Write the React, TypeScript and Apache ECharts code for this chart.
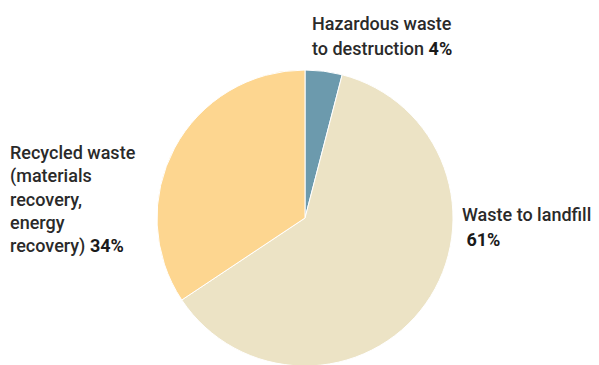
import React, { useEffect, useRef } from "react";
import * as echarts from "echarts";

const categories = [
  "Hazardous waste\nto destruction",
  "Waste to landfill\n",
  "Recycled waste\n(materials\nrecovery,\nenergy\nrecovery)",
];
const values = [4, 61, 34];
const percentLabels = ["4%", "61%", "34%"];
const colors = ["#6c9aad", "#ece3c5", "#fdd690"];
const labelPositions = [
  { x: 312, y: 11, lh: 25 },
  { x: 462, y: 202, lh: 25 },
  { x: 10, y: 141, lh: 23.3 },
];

export default function App() {
  const ref = useRef<HTMLDivElement>(null);
  useEffect(() => {
    document.body.style.margin = "0";
    const chart = echarts.init(ref.current!, null, { renderer: "svg" });
    chart.setOption({
      animation: false,
      backgroundColor: "#ffffff",
      series: [
        {
          type: "pie",
          center: [305, 218],
          radius: [0, 148],
          startAngle: 90,
          clockwise: true,
          silent: true,
          itemStyle: { borderColor: "#ffffff", borderWidth: 1 },
          labelLine: { show: false },
          label: {
            show: true,
            position: "outside",
            alignTo: "none",
            overflow: "none",
            formatter: (p: any) => {
              const lines = categories[p.dataIndex].split("\n");
              const last = lines.pop();
              const head = lines.map((l) => `{t|${l}}`).join("\n");
              return `${head}\n{t|${last} }{b|${percentLabels[p.dataIndex]}}`;
            },
            rich: {
              t: {
                fontFamily: "Roboto",
                fontSize: 18,
                fontWeight: 500,
                color: "#2a2a2a",
              },
              b: {
                fontFamily: "Roboto",
                fontSize: 18,
                fontWeight: 700,
                color: "#1a1a1a",
              },
            },
          },
          labelLayout: (params: any) => {
            const pos = labelPositions[params.dataIndex];
            return {
              x: pos.x,
              y: pos.y,
              align: "left",
              verticalAlign: "top",
              hideOverlap: false,
            };
          },
          data: values.map((v, i) => ({
            value: v,
            name: categories[i],
            itemStyle: { color: colors[i] },
            label: {
              rich: {
                t: { lineHeight: labelPositions[i].lh },
                b: { lineHeight: labelPositions[i].lh },
              },
            },
          })),
        },
      ],
    });
    return () => chart.dispose();
  }, []);
  return <div ref={ref} style={{ width: 599, height: 365 }} />;
}
